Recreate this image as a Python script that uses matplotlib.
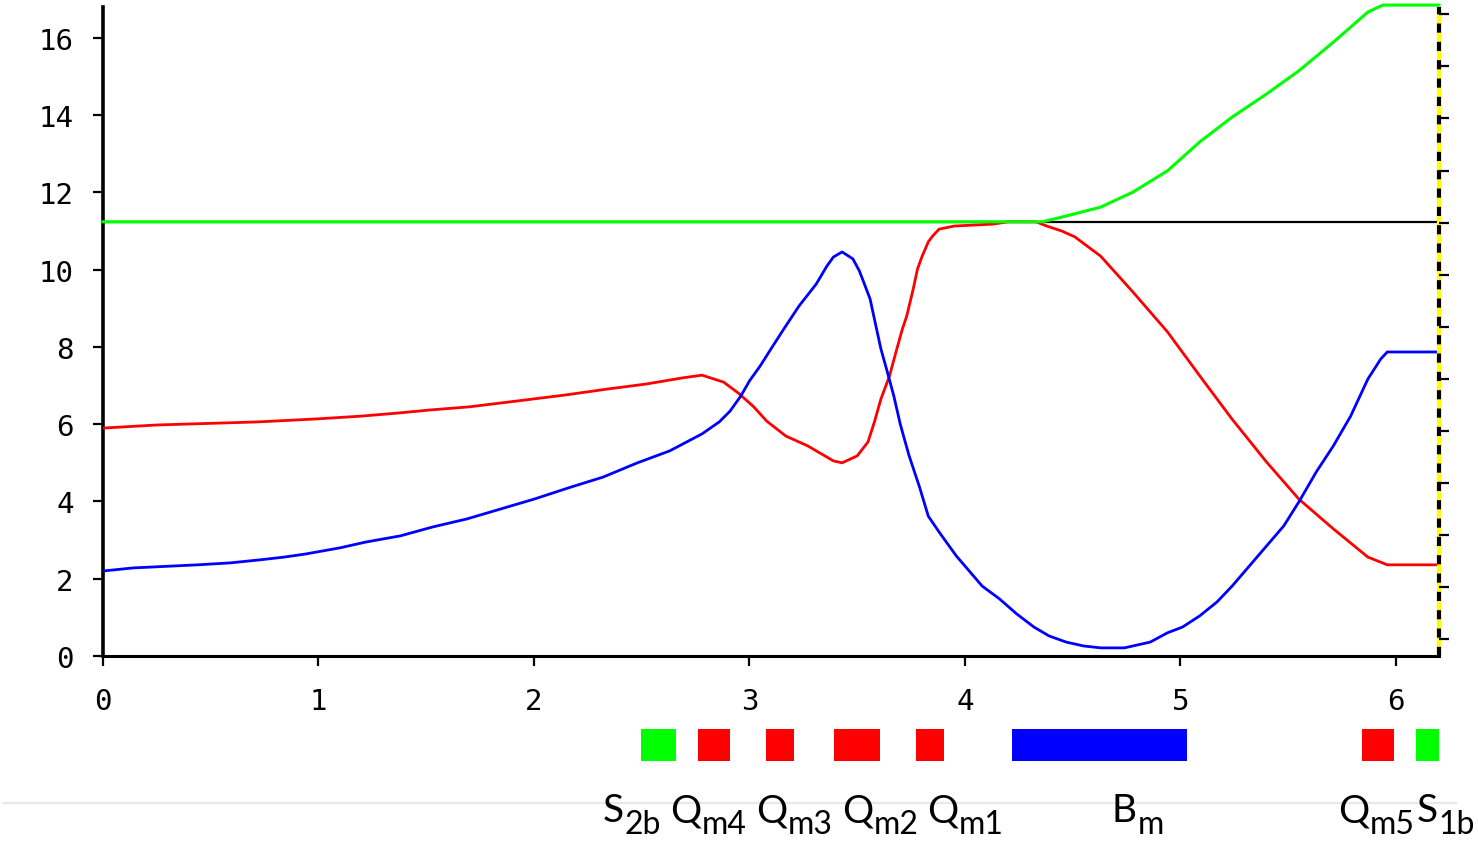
"""
Beam-line optics plot: two envelope functions plus cumulative length,
with the element layout drawn underneath.
"""

import matplotlib
matplotlib.use('Agg')
import matplotlib.pyplot as plt

# ============================================================================
# Data
# ============================================================================

s_red = [0.00, 0.25, 0.72, 1.00, 1.20, 1.37, 1.52, 1.70, 1.92, 2.15, 2.34,
         2.52, 2.69, 2.78, 2.88, 2.95, 3.02, 3.08, 3.17, 3.27, 3.39, 3.43,
         3.50, 3.55, 3.58, 3.61, 3.65, 3.68, 3.71, 3.73, 3.76, 3.78, 3.80,
         3.83, 3.85, 3.88, 3.95, 4.13, 4.20, 4.33, 4.38, 4.45, 4.51, 4.63,
         4.78, 4.94, 5.09, 5.24, 5.40, 5.55, 5.71, 5.87, 5.96, 6.20]
red = [5.90, 5.98, 6.06, 6.14, 6.21, 6.29, 6.37, 6.45, 6.60, 6.76, 6.91,
       7.04, 7.20, 7.27, 7.09, 6.80, 6.45, 6.08, 5.69, 5.44, 5.05, 5.00,
       5.18, 5.54, 6.06, 6.65, 7.25, 7.87, 8.47, 8.80, 9.50, 10.02, 10.33,
       10.72, 10.87, 11.05, 11.13, 11.18, 11.24, 11.24, 11.13, 11.00, 10.85,
       10.35, 9.42, 8.39, 7.25, 6.13, 5.02, 4.06, 3.29, 2.56, 2.36, 2.36]

s_blue = [0.00, 0.14, 0.44, 0.59, 0.73, 0.84, 0.94, 1.02, 1.10, 1.22, 1.38,
          1.53, 1.69, 2.00, 2.17, 2.32, 2.48, 2.63, 2.78, 2.86, 2.91, 2.96,
          3.00, 3.05, 3.10, 3.16, 3.23, 3.31, 3.36, 3.39, 3.43, 3.48, 3.51,
          3.53, 3.56, 3.58, 3.61, 3.64, 3.67, 3.70, 3.74, 3.79, 3.83, 3.88,
          3.96, 4.08, 4.16, 4.24, 4.32, 4.39, 4.47, 4.55, 4.63, 4.74, 4.78,
          4.86, 4.94, 5.01, 5.09, 5.17, 5.24, 5.32, 5.40, 5.48, 5.55, 5.63,
          5.71, 5.79, 5.87, 5.93, 5.96, 6.20]
blue = [2.20, 2.28, 2.36, 2.41, 2.49, 2.56, 2.64, 2.72, 2.80, 2.95, 3.11,
        3.34, 3.55, 4.06, 4.37, 4.63, 5.00, 5.31, 5.75, 6.06, 6.34, 6.73,
        7.12, 7.51, 7.95, 8.47, 9.06, 9.63, 10.10, 10.33, 10.46, 10.28, 9.97,
        9.68, 9.24, 8.72, 7.95, 7.35, 6.73, 6.00, 5.20, 4.36, 3.62, 3.21,
        2.59, 1.81, 1.48, 1.09, 0.75, 0.52, 0.36, 0.26, 0.21, 0.21, 0.26,
        0.36, 0.60, 0.75, 1.04, 1.40, 1.81, 2.33, 2.85, 3.37, 3.99, 4.76,
        5.44, 6.21, 7.17, 7.69, 7.87, 7.87]

s_green = [0.00, 4.36, 4.47, 4.63, 4.78, 4.94, 5.09, 5.24, 5.40, 5.55, 5.71,
           5.79, 5.87, 5.94, 6.20]
green = [11.24, 11.24, 11.39, 11.62, 12.01, 12.56, 13.31, 13.95, 14.55,
         15.15, 15.89, 16.28, 16.67, 16.85, 16.85]

ref_level = 11.24

# element layout: start, end, colour
elem_start = [2.497, 2.761, 3.077, 3.392, 3.773, 4.218, 5.842, 6.093]
elem_end   = [2.659, 2.910, 3.206, 3.606, 3.903, 5.030, 5.991, 6.209]
elem_color = ['#00ff00', '#ff0000', '#ff0000', '#ff0000', '#ff0000',
              '#0000ff', '#ff0000', '#00ff00']

# element names (letter + subscript) and where each label starts along s
label_main = ['S', 'Q', 'Q', 'Q', 'Q', 'B', 'Q', 'S']
label_sub  = ['2b', 'm4', 'm3', 'm2', 'm1', 'm', 'm5', '1b']
label_s    = [2.320, 2.631, 3.030, 3.429, 3.824, 4.682, 5.731, 6.097]

x_ticks = [0, 1, 2, 3, 4, 5, 6]
y_ticks = [0, 2, 4, 6, 8, 10, 12, 14, 16]
right_ticks = list(range(13))

# ============================================================================
# Figure
# ============================================================================

fig = plt.figure(figsize=(14.78, 8.45), dpi=100)
ax = fig.add_axes([0.0697, 0.2225, 0.9039, 0.768])

tick_font = dict(family='DejaVu Sans Mono', size=21)

ax.plot([0, 6.2], [ref_level, ref_level], color='black', lw=1.6, zorder=2)
ax.plot(s_red, red, color='#ff0000', lw=2.0, zorder=3)
ax.plot(s_blue, blue, color='#0000ff', lw=2.0, zorder=4)
ax.plot(s_green, green, color='#00ff00', lw=2.2, zorder=5, clip_on=False)

ax.set_xlim(0, 6.2)
ax.set_ylim(0, 16.8)
ax.set_xticks(x_ticks)
ax.set_yticks(y_ticks)
ax.set_xticklabels([str(v) for v in x_ticks], fontdict=tick_font)
ax.set_yticklabels([str(v) for v in y_ticks], fontdict=tick_font)
ax.tick_params(axis='x', length=7, width=1.6, pad=15, direction='out')
ax.tick_params(axis='y', length=7, width=1.6, pad=14, direction='out')

for side in ('top', 'right'):
    ax.spines[side].set_visible(False)
ax.spines['left'].set_linewidth(2.6)
ax.spines['bottom'].set_linewidth(2.2)

# right edge: yellow/black dashed marker with an unlabelled scale
ax.plot([6.2, 6.2], [0, 16.8], color='#ffff00', lw=3.0, clip_on=False,
        zorder=6, solid_capstyle='butt')
ax.plot([6.2, 6.2], [0, 16.8], color='black', lw=3.0, clip_on=False,
        zorder=7, ls=(0, (2.2, 2.2)))

axr = ax.twinx()
axr.set_ylim(-0.32, 12.14)
axr.set_yticks(right_ticks)
axr.set_yticklabels([])
axr.tick_params(axis='y', length=7, width=1.6, direction='out')
for side in ('top', 'left', 'bottom', 'right'):
    axr.spines[side].set_visible(False)

# ---- element layout ----
axe = fig.add_axes([0.0697, 0.0982, 0.9039, 0.0379], sharex=ax)
axe.barh(0, [e - s for s, e in zip(elem_start, elem_end)],
         left=elem_start, height=1.0, color=elem_color)
axe.set_ylim(-0.5, 0.5)
axe.axis('off')

label_y = -1.875   # baseline, in element-axes units
trans = axe.get_xaxis_transform()
for main, sub, s in zip(label_main, label_sub, label_s):
    t = axe.text(s, label_y, main, transform=trans, ha='left',
                 va='baseline', fontsize=28, family='Lato', color='black',
                 clip_on=False, zorder=5)
    axe.annotate(sub, xy=(1, label_y), xycoords=(t, trans),
                 xytext=(0.5, -8.5), textcoords='offset points',
                 ha='left', va='baseline', fontsize=23, family='Lato',
                 color='black', annotation_clip=False, zorder=5)

# faint separator line under the element row
fig.add_artist(plt.Line2D([0.003, 0.985], [0.0485, 0.0485],
                          transform=fig.transFigure, color='#e8e8e8',
                          lw=1.6, zorder=0))

plt.savefig('out.png', dpi=100)
